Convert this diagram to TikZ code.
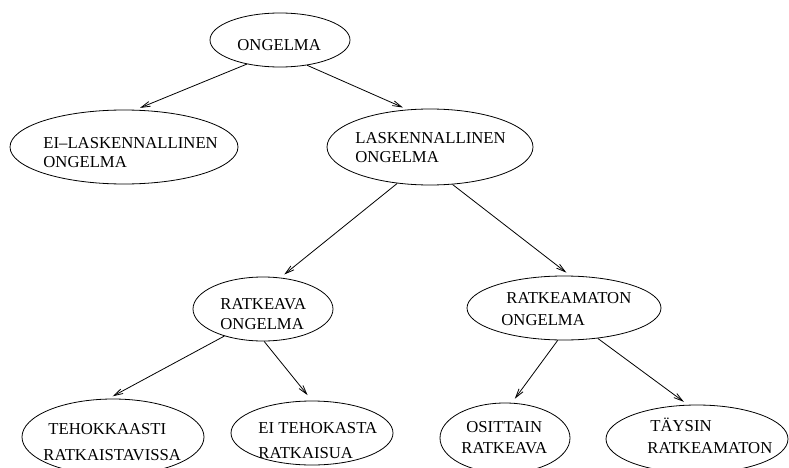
\documentclass[tikz,border=0pt]{standalone}
\usepackage{fontspec}
\setmainfont{Liberation Serif}
\usetikzlibrary{arrows.meta,shapes.geometric}

\begin{document}
\begin{tikzpicture}[x=1pt,y=-1pt,line width=0.8pt,
  oval/.style={draw,ellipse,inner sep=0pt},
  words/.style={anchor=base west,align=left,inner sep=0pt,
    font=\fontsize{16.7}{19}\selectfont},
  link/.style={-{Straight Barb[length=9pt,width=5pt]},shorten >=5pt}]
  \useasboundingbox (0,0) rectangle (789,468);
  \clip (0,0) rectangle (789,468);

  % the ellipses, top to bottom
  \node[oval,minimum width=140pt,minimum height=54pt] (ong) at (280,40) {};
  \node[oval,minimum width=228pt,minimum height=74pt] (eil) at (124,147) {};
  \node[oval,minimum width=206pt,minimum height=76pt] (las) at (430,147) {};
  \node[oval,minimum width=140pt,minimum height=64pt] (rav) at (263,309) {};
  \node[oval,minimum width=194pt,minimum height=64pt] (ram) at (564,308) {};
  \node[oval,minimum width=182pt,minimum height=76pt] (teh) at (113,437) {};
  \node[oval,minimum width=162pt,minimum height=64pt] (eit) at (312,433) {};
  \node[oval,minimum width=130pt,minimum height=70pt] (osi) at (505,438) {};
  \node[oval,minimum width=182pt,minimum height=68pt] (tay) at (697,439) {};

  % texts (placed by the baseline of the last line)
  \node[words] (ong-t) at (237,51) {ONGELMA};
  \node[words] (eil-t) at (43,167) {EI--LASKENNALLINEN\\ONGELMA};
  \node[words] (las-t) at (355,162) {LASKENNALLINEN\\ONGELMA};
  \node[words] (rav-t) at (220,329) {RATKEAVA\\[0.7pt]ONGELMA};
  \node[words] (ram-t) at (501,325) {\hspace*{5pt}RATKEAMATON\\[2.7pt]ONGELMA};
  \node[words] (teh-t) at (43,460) {\hspace*{5pt}TEHOKKAASTI\\[7pt]RATKAISTAVISSA};
  \node[words] (eit-t) at (258,458) {EI TEHOKASTA\\[6pt]RATKAISUA};
  \node[words] (osi-t) at (461,453) {\hspace*{5pt}OSITTAIN\\[1.6pt]RATKEAVA};
  \node[words] (tay-t) at (647,453) {\hspace*{3pt}TÄYSIN\\[2.6pt]RATKEAMATON};

  % arrows
  \draw[link] (ong.216) -- (eil.73);
  \draw[link] (ong.317) -- (las.121);
  \draw[link] (las.228) -- (rav.61);
  \draw[link] (las.301) -- (ram.79);
  \draw[link] (rav.215) -- (teh.97);
  \draw[link,shorten >=7pt] (rav.272) -- (eit.90);
  \draw[link] (ram.259) -- (osi.79);
  \draw[link] (ram.318) -- (tay.105);
\end{tikzpicture}
\end{document}
